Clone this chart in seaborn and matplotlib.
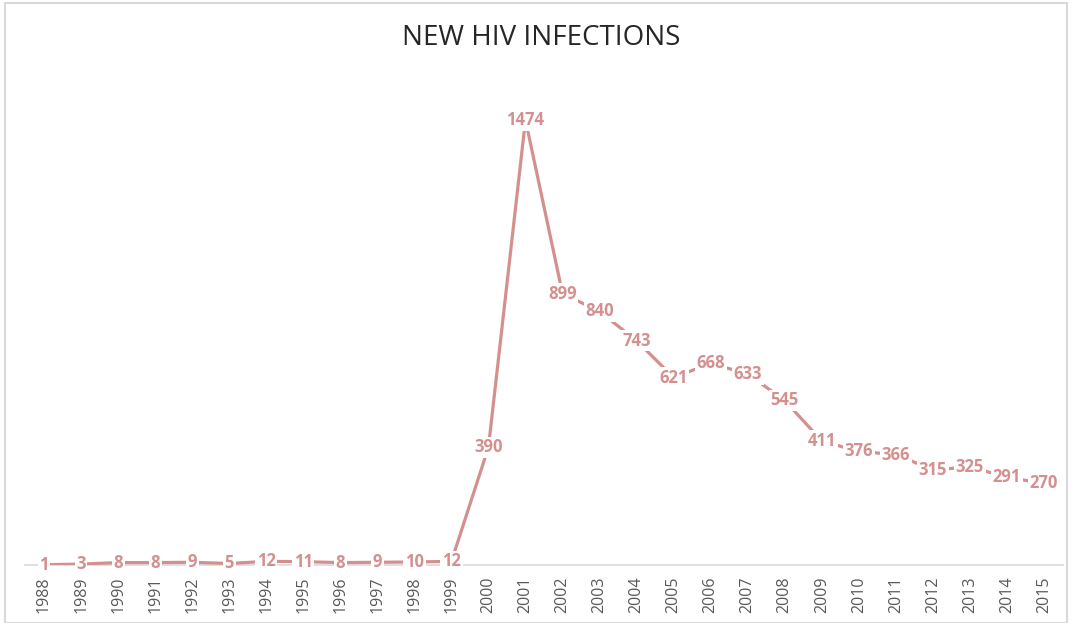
import numpy as np
import pandas as pd
import matplotlib
matplotlib.use("Agg")
import matplotlib.pyplot as plt
import seaborn as sns
from matplotlib.patches import Rectangle

years = [str(y) for y in range(1988, 2016)]
infections = [1, 3, 8, 8, 9, 5, 12, 11, 8, 9, 10, 12, 390, 1474,
              899, 840, 743, 621, 668, 633, 545, 411, 376, 366, 315, 325, 291, 270]

df = pd.DataFrame({"Year": years, "Infections": infections})
df["pos"] = np.arange(len(df))

sns.set_theme(style="white")
plt.rcParams['font.family'] = ['Open Sans', 'DejaVu Sans']

line_col = "#d4908f"

fig = plt.figure(figsize=(10.73, 6.23), dpi=100)
ax = fig.add_axes([25.5 / 1073, 58 / 623, 1037 / 1073, 483 / 623])

sns.lineplot(data=df, x="pos", y="Infections", ax=ax, color=line_col,
             linewidth=2.3, zorder=3)

# data labels sit on the points, white box hides the line behind them
for i, v in enumerate(infections):
    ax.text(i, v, str(v), ha="center", va="center", fontsize=12,
            fontweight="bold", color=line_col, zorder=4,
            bbox=dict(boxstyle="square,pad=0.1", fc="white", ec="none"))

ax.set_xlim(-0.5, len(years) - 0.5)
ax.set_ylim(0, 1600)
ax.set_xticks(df["pos"])
ax.set_xticklabels(years, rotation=90, fontsize=11.5, color="#595959")
ax.set_yticks([])
ax.tick_params(axis="x", length=0, pad=8)
ax.set_xlabel("")
ax.set_ylabel("")
for s in ["top", "right", "left"]:
    ax.spines[s].set_visible(False)
ax.spines["bottom"].set_color("#d9d9d9")
ax.spines["bottom"].set_linewidth(1.2)
ax.spines["bottom"].set_zorder(1)

fig.text(541 / 1073, 1 - 38 / 623, "NEW HIV INFECTIONS", ha="center",
         va="center", fontsize=20, color="#262626")

fig.patches.append(Rectangle((5 / 1073, 0), 1062 / 1073, 620 / 623,
                             transform=fig.transFigure, fill=False,
                             ec="#d9d9d9", lw=1.5))

plt.savefig("out.png", dpi=100)
